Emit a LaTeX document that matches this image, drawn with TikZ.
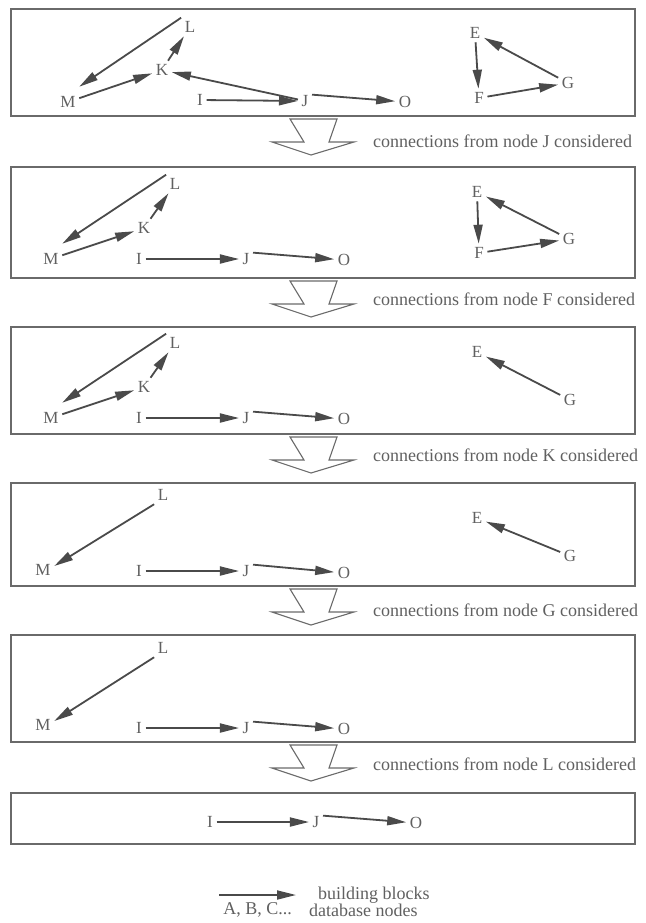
\documentclass[tikz,border=0pt]{standalone}
\usepackage{fontspec}
\setmainfont{Liberation Serif}
\usetikzlibrary{arrows.meta}
\definecolor{linec}{HTML}{4A4A4A}
\definecolor{txtc}{HTML}{606060}
\definecolor{boxc}{HTML}{6A6A6A}
\newcommand\ndfont{\fontsize{17}{17}\selectfont}
\newcommand\lbfont{\fontsize{18}{18}\selectfont}
\tikzset{
  nd/.style={text=txtc, font=\ndfont, inner sep=3.5pt},
  edge/.style={draw=linec, line width=1.8pt, -{Triangle[length=19pt,width=9pt]}},
  panel/.style={draw=boxc, line width=1.3pt},
  blk/.style={draw=boxc, line width=1.1pt, fill=white, line join=miter},
  lbl/.style={text=txtc, font=\lbfont, anchor=west, inner sep=0pt},
}
\newcommand\blkarrow[1]{%
  \draw[blk] (290,#1+3) -- (337,#1+3) -- (329,#1+26) -- (354,#1+26) -- (311,#1+39) -- (272,#1+26) -- (304,#1+26) -- cycle;}
\begin{document}
\begin{tikzpicture}[x=1pt,y=-1pt]
\useasboundingbox (0,0) rectangle (645,923);
% ---------- panel 1
\draw[panel] (11,9) rectangle (635,116);
\node[nd] (L1) at (190,27) {L};
\node[nd] (K1) at (162,70) {K};
\node[nd] (M1) at (68,102) {M};
\node[nd] (I1) at (200,100) {I};
\node[nd] (J1) at (305,101) {J};
\node[nd] (O1) at (405,102) {O};
\node[nd] (E1) at (475,33) {E};
\node[nd] (F1) at (479,98) {F};
\node[nd] (G1) at (568,83) {G};
\draw[edge] (L1.north west) -- ([yshift=6pt]M1.north east);
\draw[edge] (K1) -- (L1);
\draw[edge] (M1) -- (K1);
\draw[edge] (J1) -- (K1);
\draw[edge] (I1) -- (J1);
\draw[edge] ([yshift=-3pt]J1.north east) -- (O1);
\draw[edge] (E1) -- (F1);
\draw[edge] (G1) -- (E1);
\draw[edge] (F1) -- (G1);
\blkarrow{116}
\node[lbl] (T1) at (373,141) {connections from node J considered};
% ---------- panel 2
\draw[panel] (11,167) rectangle (635,278);
\node[nd] (L2) at (175,184) {L};
\node[nd] (K2) at (144,228) {K};
\node[nd] (M2) at (51,259) {M};
\node[nd] (I2) at (139,259) {I};
\node[nd] (J2) at (246,259) {J};
\node[nd] (O2) at (344,260) {O};
\node[nd] (E2) at (477,192) {E};
\node[nd] (F2) at (479,253) {F};
\node[nd] (G2) at (569,239) {G};
\draw[edge] (L2.north west) -- ([yshift=6pt]M2.north east);
\draw[edge] (K2) -- (L2);
\draw[edge] (M2) -- (K2);
\draw[edge] (I2) -- (J2);
\draw[edge] ([yshift=-3pt]J2.north east) -- (O2);
\draw[edge] (E2) -- (F2);
\draw[edge] (G2) -- (E2);
\draw[edge] (F2) -- (G2);
\blkarrow{278}
\node[lbl] (T2) at (373,299) {connections from node F considered};
% ---------- panel 3
\draw[panel] (11,327) rectangle (635,434);
\node[nd] (L3) at (175,343) {L};
\node[nd] (K3) at (144,387) {K};
\node[nd] (M3) at (51,418) {M};
\node[nd] (I3) at (139,418) {I};
\node[nd] (J3) at (246,418) {J};
\node[nd] (O3) at (344,419) {O};
\node[nd] (E3) at (477,352) {E};
\node[nd] (G3) at (570,400) {G};
\draw[edge] (L3.north west) -- ([yshift=6pt]M3.north east);
\draw[edge] (K3) -- (L3);
\draw[edge] (M3) -- (K3);
\draw[edge] (I3) -- (J3);
\draw[edge] ([yshift=-3pt]J3.north east) -- (O3);
\draw[edge] (G3) -- (E3);
\blkarrow{434}
\node[lbl] (T3) at (373,455) {connections from node K considered};
% ---------- panel 4
\draw[panel] (11,483) rectangle (635,586);
\node[nd] (L4) at (163,495) {L};
\node[nd] (M4) at (43,570) {M};
\node[nd] (I4) at (139,571) {I};
\node[nd] (J4) at (246,571) {J};
\node[nd] (O4) at (344,573) {O};
\node[nd] (E4) at (477,518) {E};
\node[nd] (G4) at (570,556) {G};
\draw[edge] (L4.south west) -- ([yshift=4pt]M4.east);
\draw[edge] (I4) -- (J4);
\draw[edge] ([yshift=-3pt]J4.north east) -- (O4);
\draw[edge] (G4) -- (E4);
\blkarrow{586}
\node[lbl] (T4) at (373,610) {connections from node G considered};
% ---------- panel 5
\draw[panel] (11,635) rectangle (635,742);
\node[nd] (L5) at (163,648) {L};
\node[nd] (M5) at (43,725) {M};
\node[nd] (I5) at (139,728) {I};
\node[nd] (J5) at (246,728) {J};
\node[nd] (O5) at (344,729) {O};
\draw[edge] (L5.south west) -- ([yshift=4pt]M5.east);
\draw[edge] (I5) -- (J5);
\draw[edge] ([yshift=-3pt]J5.north east) -- (O5);
\blkarrow{742}
\node[lbl] (T5) at (373,764) {connections from node L considered};
% ---------- panel 6
\draw[panel] (11,793) rectangle (635,844);
\node[nd] (I6) at (210,822) {I};
\node[nd] (J6) at (316,822) {J};
\node[nd] (O6) at (416,823) {O};
\draw[edge] (I6) -- (J6);
\draw[edge] ([yshift=-3pt]J6.north east) -- (O6);
% ---------- legend
\coordinate (la) at (219,895);
\coordinate (lb) at (296,895);
\draw[edge] (la) -- (lb);
\node[lbl] (B1) at (318,895) {building blocks};
\node[lbl] (B2) at (309,910) {database nodes};
\node[lbl, anchor=east] (B3) at (292,910) {A, B, C...};
\end{tikzpicture}
\end{document}
